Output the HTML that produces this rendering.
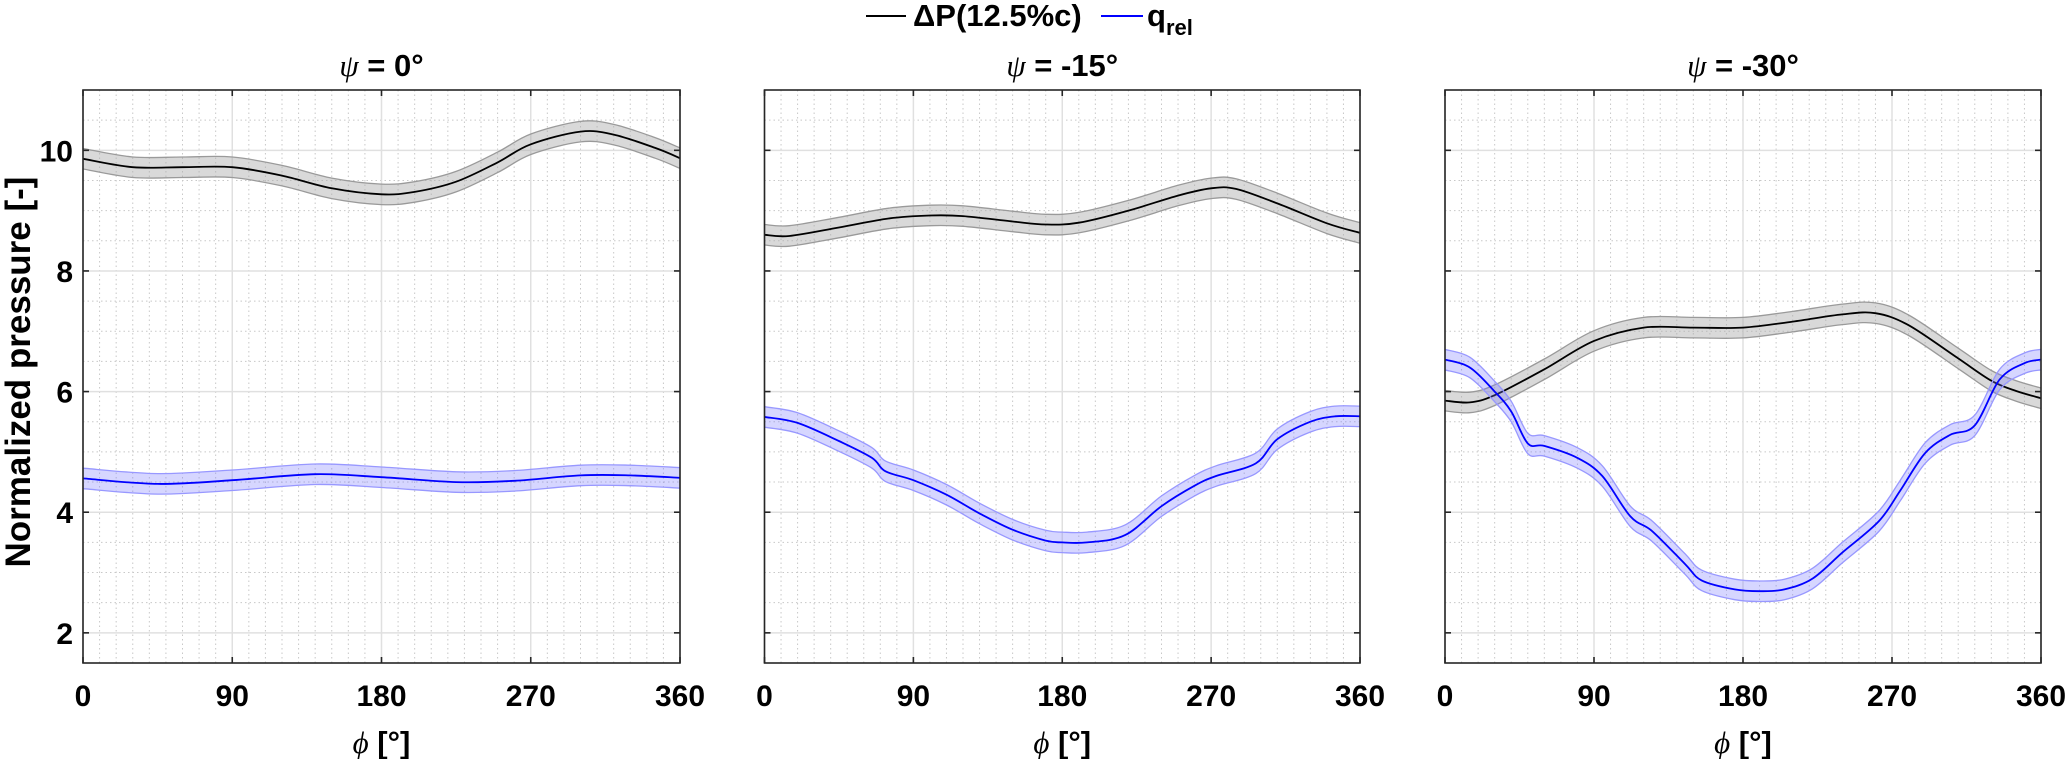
<!DOCTYPE html>
<html><head><meta charset="utf-8"><style>
html,body{margin:0;padding:0;background:#fff;}
svg{display:block;font-family:"Liberation Sans",Arial,sans-serif;}
</style></head><body>
<svg id="chart" width="2067" height="759" viewBox="0 0 2067 759" xmlns="http://www.w3.org/2000/svg">
<g>
<line x1="866" y1="16" x2="906" y2="16" stroke="#000" stroke-width="2"/>
<text x="913" y="26" font-size="31" font-weight="bold" fill="#000">ΔP(12.5%c)</text>
<line x1="1101" y1="16" x2="1143" y2="16" stroke="#0000ff" stroke-width="2"/>
<text x="1147" y="26" font-size="31" font-weight="bold" fill="#000">q<tspan font-size="22" dy="9">rel</tspan></text>
</g>
<text transform="translate(30,372) rotate(-90)" text-anchor="middle" font-size="35" font-weight="bold" fill="#000">Normalized pressure [-]</text>
</svg>
<script>
const xTicks=[0,90,180,270,360];
const yTicks=[2,4,6,8,10];
const titles=["0°","-15°","-30°"];
const phi0=[0,30,60,90,120,150,180,200,225,250,270,300,320,345,360];
const dp0=[9.86,9.72,9.72,9.72,9.58,9.37,9.27,9.31,9.48,9.8,10.1,10.31,10.26,10.04,9.87];
const phiQ0=[0,45,90,140,180,225,260,300,330,360];
const q0=[4.56,4.47,4.53,4.63,4.58,4.5,4.52,4.61,4.61,4.57];
const phi1=[0,15,45,75,100,120,150,170,190,220,250,270,285,310,340,360];
const dp1=[8.6,8.58,8.72,8.87,8.92,8.91,8.82,8.77,8.8,9.0,9.25,9.37,9.36,9.12,8.79,8.63];
const phiQ1=[0,20,45,65,73,90,110,130,150,170,180,195,218,240,260,273,297,310,330,345,360];
const q1=[5.58,5.48,5.18,4.9,4.68,4.53,4.29,3.98,3.71,3.53,3.5,3.5,3.62,4.1,4.44,4.6,4.81,5.21,5.5,5.59,5.59];
const phi2=[0,15,30,60,90,120,150,180,210,240,260,280,310,330,345,360];
const dp2=[5.85,5.82,5.94,6.37,6.84,7.06,7.06,7.06,7.16,7.28,7.3,7.1,6.55,6.18,6.01,5.89];
const phiQ2=[0,15,30,40,50,60,80,95,112,125,145,155,175,190,205,222,240,262,275,290,305,320,335,350,360];
const q2=[6.53,6.4,6.0,5.67,5.14,5.1,4.9,4.6,3.93,3.69,3.14,2.87,2.72,2.69,2.72,2.9,3.33,3.85,4.36,4.98,5.28,5.44,6.2,6.47,6.53];
const bandHalf=[0.17,0.17];

const panels=[{x0:83,x1:680},{x0:764.5,x1:1360},{x0:1445,x1:2041}];
const Y0=90,Y1=663,YMIN=1.5,YMAX=11;
const NS="http://www.w3.org/2000/svg";
const svg=document.getElementById('chart');
function mk(t,a,p){const e=document.createElementNS(NS,t);for(const k in a)e.setAttribute(k,a[k]);(p||svg).appendChild(e);return e;}
function yS(v){return Y1-(v-YMIN)/(YMAX-YMIN)*(Y1-Y0);}
function path(pts){
 let d='M'+pts[0][0].toFixed(1)+','+pts[0][1].toFixed(1);
 for(let i=0;i<pts.length-1;i++){const p0=pts[Math.max(0,i-1)],p1=pts[i],p2=pts[i+1],p3=pts[Math.min(pts.length-1,i+2)];
  const c1=[p1[0]+(p2[0]-p0[0])/6,p1[1]+(p2[1]-p0[1])/6],c2=[p2[0]-(p3[0]-p1[0])/6,p2[1]-(p3[1]-p1[1])/6];
  d+='C'+c1[0].toFixed(1)+','+c1[1].toFixed(1)+' '+c2[0].toFixed(1)+','+c2[1].toFixed(1)+' '+p2[0].toFixed(1)+','+p2[1].toFixed(1);}
 return d;}
const series=[[phi0,dp0,phiQ0,q0],[phi1,dp1,phiQ1,q1],[phi2,dp2,phiQ2,q2]];
panels.forEach((P,pi)=>{
 const xS=v=>P.x0+v/360*(P.x1-P.x0);
 const g=mk('g',{});
 
 
 for(let v=10;v<360;v+=10){if(v%90===0)continue;const l=mk('line',{x1:xS(v),x2:xS(v),y1:Y0,y2:Y1,stroke:'#c8c8c8','stroke-width':1,'stroke-dasharray':'1.5,3'},g);
  }
 for(let v=2;v<=11;v+=0.5){if(v%2===0)continue;const l=mk('line',{x1:P.x0,x2:P.x1,y1:yS(v),y2:yS(v),stroke:'#c8c8c8','stroke-width':1,'stroke-dasharray':'1.5,3'},g);
  }
 xTicks.forEach(v=>{const l=mk('line',{x1:xS(v),x2:xS(v),y1:Y0,y2:Y1,stroke:'#e0e0e0','stroke-width':1.5},g);
  });
 yTicks.forEach(v=>{const l=mk('line',{x1:P.x0,x2:P.x1,y1:yS(v),y2:yS(v),stroke:'#e0e0e0','stroke-width':1.5},g);
  });
 const [px,pd,qx,qd]=series[pi];
 const cl='clip'+pi;const cp=mk('clipPath',{id:cl},g);mk('rect',{x:P.x0,y:Y0,width:P.x1-P.x0,height:Y1-Y0},cp);
 const sg=mk('g',{'clip-path':'url(#'+cl+')'},g);
 function draw(xs,ys,h,fill,edge,line,name){
  const up=xs.map((x,i)=>[xS(x),yS(ys[i]+h)]),dn=xs.map((x,i)=>[xS(x),yS(ys[i]-h)]).reverse();
  const b=mk('path',{d:path(up)+'L'+path(dn).slice(1)+'Z',fill:fill,stroke:'none'},sg);
  
  const e1=mk('path',{d:path(up),fill:'none',stroke:edge,'stroke-width':1.3},sg);
  
  const e2=mk('path',{d:path(dn.slice().reverse()),fill:'none',stroke:edge,'stroke-width':1.3},sg);
  
  const m=mk('path',{d:path(xs.map((x,i)=>[xS(x),yS(ys[i])])),fill:'none',stroke:line,'stroke-width':1.8},sg);
  }
 draw(px,pd,bandHalf[0],'rgba(170,170,170,0.45)','#9a9a9a','#000','dp');
 draw(qx,qd,bandHalf[1],'rgba(120,120,255,0.3)','#9898ff','#0000ff','qrel');
 const box=mk('rect',{x:P.x0,y:Y0,width:P.x1-P.x0,height:Y1-Y0,fill:'none',stroke:'#262626','stroke-width':1.6},g);
 
 xTicks.forEach(v=>{mk('line',{x1:xS(v),x2:xS(v),y1:Y1,y2:Y1-6,stroke:'#262626','stroke-width':1.6},g);mk('line',{x1:xS(v),x2:xS(v),y1:Y0,y2:Y0+6,stroke:'#262626','stroke-width':1.6},g);
  const t=mk('text',{x:xS(v),y:706,'text-anchor':'middle','font-size':30,'font-weight':'bold',fill:'#000'},g);t.textContent=v;
  });
 yTicks.forEach(v=>{mk('line',{x1:P.x0,x2:P.x0+6,y1:yS(v),y2:yS(v),stroke:'#262626','stroke-width':1.6},g);mk('line',{x1:P.x1,x2:P.x1-6,y1:yS(v),y2:yS(v),stroke:'#262626','stroke-width':1.6},g);
  if(pi===0){const t=mk('text',{x:73,y:yS(v)+11,'text-anchor':'end','font-size':30,'font-weight':'bold',fill:'#000'},g);t.textContent=v;
  }});
 const cx=(P.x0+P.x1)/2;
 const tt=mk('text',{x:cx,y:76,'text-anchor':'middle','font-size':31,'font-weight':'bold',fill:'#000'},g);
 
 tt.innerHTML='<tspan font-family="Liberation Serif,serif" font-style="italic" font-weight="normal">ψ</tspan> = ' + titles[pi];
 const xl=mk('text',{x:cx,y:753,'text-anchor':'middle','font-size':31,'font-weight':'bold',fill:'#000'},g);
 
 xl.innerHTML='<tspan font-family="Liberation Serif,serif" font-style="italic" font-weight="normal">ϕ</tspan> [°]';
});
</script>
</body></html>
